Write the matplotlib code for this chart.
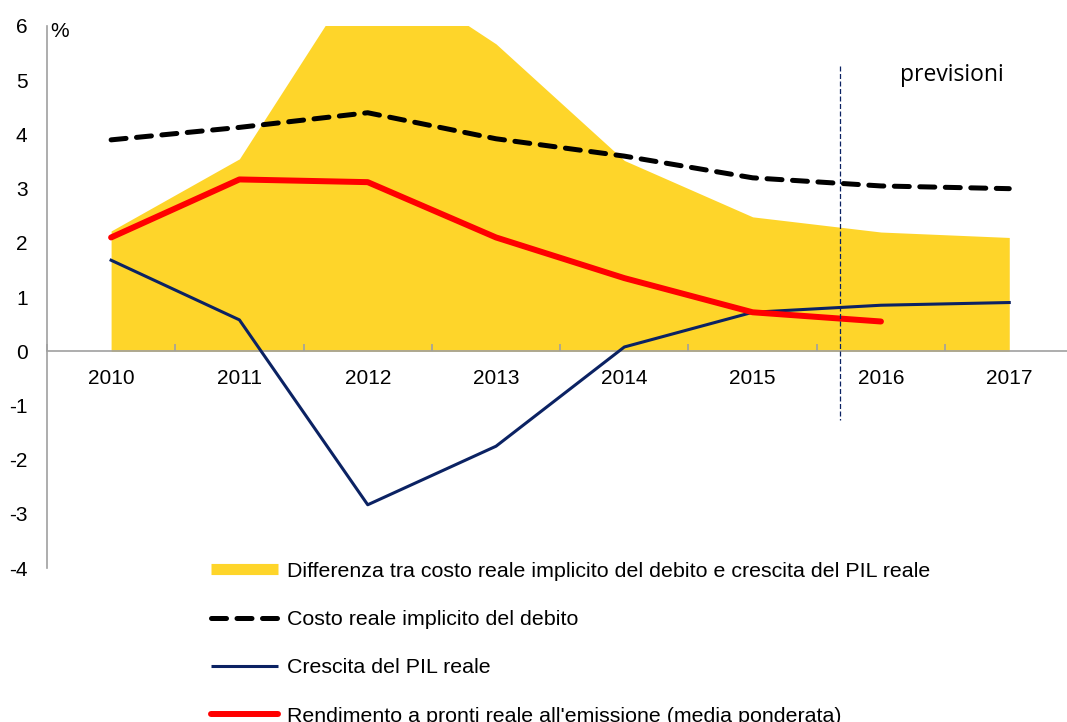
import matplotlib.pyplot as plt
from matplotlib.lines import Line2D

years = ["2010", "2011", "2012", "2013", "2014", "2015", "2016", "2017"]
costo_reale = [3.90, 4.13, 4.40, 3.92, 3.60, 3.20, 3.05, 3.00]
crescita_pil = [1.68, 0.58, -2.83, -1.75, 0.08, 0.72, 0.85, 0.90]
differenza = [2.22, 3.55, 7.23, 5.67, 3.52, 2.48, 2.20, 2.10]
rendimento = [2.10, 3.17, 3.12, 2.10, 1.35, 0.72, 0.55]

labels = [
    "Differenza tra costo reale implicito del debito e crescita del PIL reale",
    "Costo reale implicito del debito",
    "Crescita del PIL reale",
    "Rendimento a pronti reale all'emissione (media ponderata)",
]

YELLOW = "#FED52A"
NAVY = "#0B2263"
RED = "#FF0000"
GRAY = "#A0A0A0"

plt.rcParams["font.family"] = ["Liberation Sans", "DejaVu Sans"]
plt.rcParams["axes.unicode_minus"] = False

fig = plt.figure(figsize=(10.67, 7.22), dpi=100)
ax = fig.add_axes([0.044, 0.213, 0.956, 0.751])

x = list(range(len(years)))
ax.fill_between(x, 0, differenza, color=YELLOW, lw=0, zorder=1)
ax.plot(x, costo_reale, color="black", lw=3.6, linestyle=(0, (3.0, 2.1)),
        dash_capstyle="round", zorder=4)
ax.plot(x, crescita_pil, color=NAVY, lw=2.2, zorder=3)
ax.plot(x[:len(rendimento)], rendimento, color=RED, lw=4.3,
        solid_capstyle="round", zorder=3)

# linea delle previsioni
ax.plot([5.68, 5.68], [5.27, -1.27], color=NAVY, lw=0.9,
        linestyle=(0, (4, 2)), zorder=5)
ax.text(6.15, 5.10, "previsioni", fontsize=16.5, family=["Open Sans", "DejaVu Sans"],
        ha="left", va="center")

ax.set_yticks(range(-4, 7))
ax.set_xticks(x)
ax.set_xticklabels(years)
ax.set_xticks([i + 0.5 for i in range(-1, 7)], minor=True)
ax.set_xlim(-0.5, 7.45)
ax.set_ylim(-4, 6)

for side in ["top", "right"]:
    ax.spines[side].set_visible(False)
ax.spines["bottom"].set_position(("data", 0))
for side in ["left", "bottom"]:
    ax.spines[side].set_color(GRAY)
    ax.spines[side].set_linewidth(1.2)

ax.tick_params(axis="y", length=0, pad=14, labelsize=15)
ax.tick_params(axis="x", which="major", length=0, pad=13, labelsize=15)
ax.tick_params(axis="x", which="minor", direction="in", length=5,
               color=GRAY, width=1.2)

ax.text(0.003, 1.008, "%", transform=ax.transAxes, fontsize=15,
        ha="left", va="top")

handles = [
    Line2D([], [], color=YELLOW, lw=8, solid_capstyle="butt"),
    Line2D([], [], color="black", lw=3.6, linestyle=(0, (3.0, 2.1)),
           dash_capstyle="round"),
    Line2D([], [], color=NAVY, lw=2.2, solid_capstyle="butt"),
    Line2D([], [], color=RED, lw=4.3, solid_capstyle="round"),
]
fig.legend(handles, labels, loc="upper left", bbox_to_anchor=(0.198, 0.222),
           frameon=False, fontsize=15.4, handlelength=3.1, handletextpad=0.42,
           labelspacing=1.37, borderpad=0, borderaxespad=0)

fig.savefig("out.png", dpi=100)
